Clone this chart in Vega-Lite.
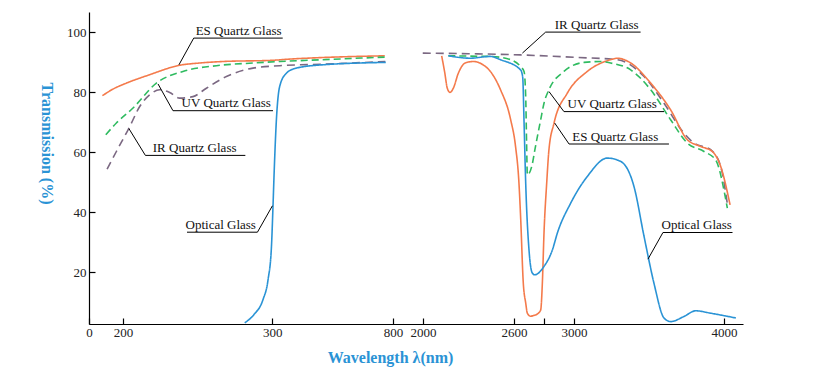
{
  "$schema": "https://vega.github.io/schema/vega-lite/v6.json",
  "width": 654,
  "height": 312,
  "autosize": {"type": "none"},
  "padding": {"left": 89, "top": 12, "right": 96, "bottom": 55},
  "background": "white",
  "config": {
    "view": {"stroke": null},
    "font": "Liberation Serif",
    "axis": {"grid": false, "domainColor": "#000", "tickColor": "#000", "labelColor": "#222", "labelFont": "Liberation Serif", "labelFontSize": 13, "titleFont": "Liberation Serif", "titleFontSize": 16, "titleFontWeight": "bold", "titleColor": "#2a93d5", "domainWidth": 1.2, "tickWidth": 1.2}
  },
  "datasets": {
    "curves": [
      {"glass": "ES", "seg": "L", "wl": 78.8, "t": 78.8},
      {"glass": "ES", "seg": "L", "wl": 141, "t": 81},
      {"glass": "ES", "seg": "L", "wl": 202.3, "t": 83},
      {"glass": "ES", "seg": "L", "wl": 217.9, "t": 85.8},
      {"glass": "ES", "seg": "L", "wl": 237.5, "t": 88.9},
      {"glass": "ES", "seg": "L", "wl": 251.4, "t": 89.7},
      {"glass": "ES", "seg": "L", "wl": 267, "t": 90.2},
      {"glass": "ES", "seg": "L", "wl": 300, "t": 90.6},
      {"glass": "ES", "seg": "L", "wl": 372, "t": 91},
      {"glass": "ES", "seg": "L", "wl": 500, "t": 91.5},
      {"glass": "ES", "seg": "L", "wl": 766, "t": 92.1},

      {"glass": "UV", "seg": "L", "wl": 98.8, "t": 65.8},
      {"glass": "UV", "seg": "L", "wl": 161, "t": 69.7},
      {"glass": "UV", "seg": "L", "wl": 206.7, "t": 74.7},
      {"glass": "UV", "seg": "L", "wl": 222.4, "t": 83},
      {"glass": "UV", "seg": "L", "wl": 240.2, "t": 86.9},
      {"glass": "UV", "seg": "L", "wl": 262.6, "t": 88.8},
      {"glass": "UV", "seg": "L", "wl": 287.1, "t": 89.7},
      {"glass": "UV", "seg": "L", "wl": 331, "t": 90.2},
      {"glass": "UV", "seg": "L", "wl": 510, "t": 90.8},
      {"glass": "UV", "seg": "L", "wl": 772.7, "t": 91.7},

      {"glass": "IR", "seg": "L", "wl": 106, "t": 54.3},
      {"glass": "IR", "seg": "L", "wl": 161, "t": 60.2},
      {"glass": "IR", "seg": "L", "wl": 204.5, "t": 68.5},
      {"glass": "IR", "seg": "L", "wl": 211.2, "t": 75.2},
      {"glass": "IR", "seg": "L", "wl": 217.9, "t": 79.1},
      {"glass": "IR", "seg": "L", "wl": 224.6, "t": 80.8},
      {"glass": "IR", "seg": "L", "wl": 231.3, "t": 79.9},
      {"glass": "IR", "seg": "L", "wl": 238, "t": 78},
      {"glass": "IR", "seg": "L", "wl": 246.9, "t": 78.5},
      {"glass": "IR", "seg": "L", "wl": 255.9, "t": 81.3},
      {"glass": "IR", "seg": "L", "wl": 269.3, "t": 85.2},
      {"glass": "IR", "seg": "L", "wl": 287.1, "t": 88},
      {"glass": "IR", "seg": "L", "wl": 331, "t": 88.8},
      {"glass": "IR", "seg": "L", "wl": 510, "t": 89.3},
      {"glass": "IR", "seg": "L", "wl": 768, "t": 90.2},

      {"glass": "Optical", "seg": "L", "wl": 281.6, "t": 3.1},
      {"glass": "Optical", "seg": "L", "wl": 287.7, "t": 5.8},
      {"glass": "Optical", "seg": "L", "wl": 293.8, "t": 10.8},
      {"glass": "Optical", "seg": "L", "wl": 297.2, "t": 17.4},
      {"glass": "Optical", "seg": "L", "wl": 299.5, "t": 28.5},
      {"glass": "Optical", "seg": "L", "wl": 303.3, "t": 41.9},
      {"glass": "Optical", "seg": "L", "wl": 307.5, "t": 51.9},
      {"glass": "Optical", "seg": "L", "wl": 317.4, "t": 70.8},
      {"glass": "Optical", "seg": "L", "wl": 331, "t": 81.9},
      {"glass": "Optical", "seg": "L", "wl": 358.8, "t": 86.3},
      {"glass": "Optical", "seg": "L", "wl": 400, "t": 88},
      {"glass": "Optical", "seg": "L", "wl": 510, "t": 89.1},
      {"glass": "Optical", "seg": "L", "wl": 770, "t": 89.9},

      {"glass": "IR", "seg": "R", "wl": 1990, "t": 93},
      {"glass": "IR", "seg": "R", "wl": 2300, "t": 92.8},
      {"glass": "IR", "seg": "R", "wl": 2644, "t": 92.4},
      {"glass": "IR", "seg": "R", "wl": 3000, "t": 91.6},
      {"glass": "IR", "seg": "R", "wl": 3289, "t": 90.8},
      {"glass": "IR", "seg": "R", "wl": 3467, "t": 85.2},
      {"glass": "IR", "seg": "R", "wl": 3600, "t": 76.3},
      {"glass": "IR", "seg": "R", "wl": 3733, "t": 66.3},
      {"glass": "IR", "seg": "R", "wl": 3800, "t": 63},
      {"glass": "IR", "seg": "R", "wl": 3911, "t": 60.8},
      {"glass": "IR", "seg": "R", "wl": 3978, "t": 55.2},
      {"glass": "IR", "seg": "R", "wl": 4023, "t": 42.4},

      {"glass": "ES", "seg": "R", "wl": 2123, "t": 92.1},
      {"glass": "ES", "seg": "R", "wl": 2144, "t": 86.3},
      {"glass": "ES", "seg": "R", "wl": 2160, "t": 81.3},
      {"glass": "ES", "seg": "R", "wl": 2178, "t": 79.9},
      {"glass": "ES", "seg": "R", "wl": 2200, "t": 81.3},
      {"glass": "ES", "seg": "R", "wl": 2233, "t": 86.3},
      {"glass": "ES", "seg": "R", "wl": 2278, "t": 89.7},
      {"glass": "ES", "seg": "R", "wl": 2333, "t": 90.2},
      {"glass": "ES", "seg": "R", "wl": 2389, "t": 89.3},
      {"glass": "ES", "seg": "R", "wl": 2444, "t": 86.9},
      {"glass": "ES", "seg": "R", "wl": 2511, "t": 80.8},
      {"glass": "ES", "seg": "R", "wl": 2578, "t": 70.8},
      {"glass": "ES", "seg": "R", "wl": 2610, "t": 62},
      {"glass": "ES", "seg": "R", "wl": 2633, "t": 49.7},
      {"glass": "ES", "seg": "R", "wl": 2644, "t": 38.5},
      {"glass": "ES", "seg": "R", "wl": 2662, "t": 16.3},
      {"glass": "ES", "seg": "R", "wl": 2678, "t": 9.7},
      {"glass": "ES", "seg": "R", "wl": 2689, "t": 6.3},
      {"glass": "ES", "seg": "R", "wl": 2710, "t": 5.3},
      {"glass": "ES", "seg": "R", "wl": 2729, "t": 5.5},
      {"glass": "ES", "seg": "R", "wl": 2760, "t": 6.2},
      {"glass": "ES", "seg": "R", "wl": 2778, "t": 7.4},
      {"glass": "ES", "seg": "R", "wl": 2789, "t": 16.3},
      {"glass": "ES", "seg": "R", "wl": 2800, "t": 33},
      {"glass": "ES", "seg": "R", "wl": 2818, "t": 49.7},
      {"glass": "ES", "seg": "R", "wl": 2833, "t": 60.8},
      {"glass": "ES", "seg": "R", "wl": 2867, "t": 69.7},
      {"glass": "ES", "seg": "R", "wl": 2956, "t": 79.7},
      {"glass": "ES", "seg": "R", "wl": 3089, "t": 86.9},
      {"glass": "ES", "seg": "R", "wl": 3244, "t": 90.8},
      {"glass": "ES", "seg": "R", "wl": 3289, "t": 91.3},
      {"glass": "ES", "seg": "R", "wl": 3378, "t": 89.7},
      {"glass": "ES", "seg": "R", "wl": 3511, "t": 83},
      {"glass": "ES", "seg": "R", "wl": 3644, "t": 74.1},
      {"glass": "ES", "seg": "R", "wl": 3756, "t": 64.1},
      {"glass": "ES", "seg": "R", "wl": 3844, "t": 61.9},
      {"glass": "ES", "seg": "R", "wl": 3922, "t": 60.2},
      {"glass": "ES", "seg": "R", "wl": 3978, "t": 55.2},
      {"glass": "ES", "seg": "R", "wl": 4040, "t": 42.4},

      {"glass": "UV", "seg": "R", "wl": 2167, "t": 92.1},
      {"glass": "UV", "seg": "R", "wl": 2300, "t": 92},
      {"glass": "UV", "seg": "R", "wl": 2444, "t": 91.9},
      {"glass": "UV", "seg": "R", "wl": 2578, "t": 90.8},
      {"glass": "UV", "seg": "R", "wl": 2644, "t": 88.5},
      {"glass": "UV", "seg": "R", "wl": 2667, "t": 86.9},
      {"glass": "UV", "seg": "R", "wl": 2678, "t": 78.5},
      {"glass": "UV", "seg": "R", "wl": 2684, "t": 63},
      {"glass": "UV", "seg": "R", "wl": 2689, "t": 52.4},
      {"glass": "UV", "seg": "R", "wl": 2722, "t": 56},
      {"glass": "UV", "seg": "R", "wl": 2740, "t": 61},
      {"glass": "UV", "seg": "R", "wl": 2778, "t": 70.8},
      {"glass": "UV", "seg": "R", "wl": 2800, "t": 76.3},
      {"glass": "UV", "seg": "R", "wl": 2833, "t": 80.8},
      {"glass": "UV", "seg": "R", "wl": 2933, "t": 86.9},
      {"glass": "UV", "seg": "R", "wl": 3067, "t": 89.9},
      {"glass": "UV", "seg": "R", "wl": 3178, "t": 90.2},
      {"glass": "UV", "seg": "R", "wl": 3244, "t": 89.7},
      {"glass": "UV", "seg": "R", "wl": 3378, "t": 87.4},
      {"glass": "UV", "seg": "R", "wl": 3511, "t": 80.8},
      {"glass": "UV", "seg": "R", "wl": 3644, "t": 70.8},
      {"glass": "UV", "seg": "R", "wl": 3756, "t": 63},
      {"glass": "UV", "seg": "R", "wl": 3867, "t": 60.2},
      {"glass": "UV", "seg": "R", "wl": 3944, "t": 57.4},
      {"glass": "UV", "seg": "R", "wl": 4022, "t": 41.3},

      {"glass": "Optical", "seg": "R", "wl": 2167, "t": 92.1},
      {"glass": "Optical", "seg": "R", "wl": 2311, "t": 91.3},
      {"glass": "Optical", "seg": "R", "wl": 2444, "t": 91.9},
      {"glass": "Optical", "seg": "R", "wl": 2511, "t": 90.8},
      {"glass": "Optical", "seg": "R", "wl": 2644, "t": 87.4},
      {"glass": "Optical", "seg": "R", "wl": 2658, "t": 85},
      {"glass": "Optical", "seg": "R", "wl": 2667, "t": 70},
      {"glass": "Optical", "seg": "R", "wl": 2678, "t": 49.7},
      {"glass": "Optical", "seg": "R", "wl": 2700, "t": 27.4},
      {"glass": "Optical", "seg": "R", "wl": 2722, "t": 19.7},
      {"glass": "Optical", "seg": "R", "wl": 2738, "t": 19.1},
      {"glass": "Optical", "seg": "R", "wl": 2800, "t": 21.9},
      {"glass": "Optical", "seg": "R", "wl": 2856, "t": 27.4},
      {"glass": "Optical", "seg": "R", "wl": 2889, "t": 33},
      {"glass": "Optical", "seg": "R", "wl": 2978, "t": 43},
      {"glass": "Optical", "seg": "R", "wl": 3089, "t": 51.9},
      {"glass": "Optical", "seg": "R", "wl": 3222, "t": 58},
      {"glass": "Optical", "seg": "R", "wl": 3311, "t": 56.9},
      {"glass": "Optical", "seg": "R", "wl": 3400, "t": 48.5},
      {"glass": "Optical", "seg": "R", "wl": 3467, "t": 31.9},
      {"glass": "Optical", "seg": "R", "wl": 3533, "t": 16.3},
      {"glass": "Optical", "seg": "R", "wl": 3600, "t": 4.7},
      {"glass": "Optical", "seg": "R", "wl": 3644, "t": 3.5},
      {"glass": "Optical", "seg": "R", "wl": 3733, "t": 5.2},
      {"glass": "Optical", "seg": "R", "wl": 3811, "t": 7.1},
      {"glass": "Optical", "seg": "R", "wl": 3911, "t": 6.3},
      {"glass": "Optical", "seg": "R", "wl": 4078, "t": 4.7}
    ],
    "leaders": [
      {"ann": "esL", "ord": 1, "wl": 237.5, "t": 89.1},
      {"ann": "esL", "ord": 2, "wl": 247.4, "t": 98},
      {"ann": "esL", "ord": 3, "wl": 343.5, "t": 98},
      {"ann": "uvL", "ord": 1, "wl": 223.5, "t": 82.7},
      {"ann": "uvL", "ord": 2, "wl": 233.5, "t": 73.8},
      {"ann": "uvL", "ord": 3, "wl": 303.3, "t": 73.8},
      {"ann": "irL", "ord": 1, "wl": 204, "t": 67.8},
      {"ann": "irL", "ord": 2, "wl": 215, "t": 58.9},
      {"ann": "irL", "ord": 3, "wl": 282, "t": 58.9},
      {"ann": "optL", "ord": 1, "wl": 300.8, "t": 42.1},
      {"ann": "optL", "ord": 2, "wl": 290.1, "t": 33.3},
      {"ann": "optL", "ord": 3, "wl": 242.9, "t": 33.3},
      {"ann": "irR", "ord": 1, "wl": 2656, "t": 93},
      {"ann": "irR", "ord": 2, "wl": 2811, "t": 100},
      {"ann": "irR", "ord": 3, "wl": 3444, "t": 100},
      {"ann": "uvR", "ord": 1, "wl": 2833, "t": 80.2},
      {"ann": "uvR", "ord": 2, "wl": 2933, "t": 73.5},
      {"ann": "uvR", "ord": 3, "wl": 3600, "t": 73.5},
      {"ann": "esR", "ord": 1, "wl": 2871, "t": 69.7},
      {"ann": "esR", "ord": 2, "wl": 2967, "t": 62.7},
      {"ann": "esR", "ord": 3, "wl": 3633, "t": 62.7},
      {"ann": "optR", "ord": 1, "wl": 3493, "t": 24.3},
      {"ann": "optR", "ord": 2, "wl": 3593, "t": 33.2},
      {"ann": "optR", "ord": 3, "wl": 4056, "t": 33.2}
    ],
    "labels": [
      {"text": "ES Quartz Glass", "wl": 277.5, "t": 99.1},
      {"text": "UV Quartz Glass", "wl": 269.2, "t": 74.9},
      {"text": "IR Quartz Glass", "wl": 248, "t": 60},
      {"text": "Optical Glass", "wl": 265.5, "t": 34.4},
      {"text": "IR Quartz Glass", "wl": 3151, "t": 101.1},
      {"text": "UV Quartz Glass", "wl": 3255, "t": 74.6},
      {"text": "ES Quartz Glass", "wl": 3275, "t": 63.8},
      {"text": "Optical Glass", "wl": 3818, "t": 34.3}
    ]
  },
  "encoding": {
    "x": {
      "field": "wl", "type": "quantitative",
      "scale": {"domain": [0, 200, 300, 800, 2000, 2600, 3000, 4000, 4125], "range": [0, 34, 183.2, 304, 334, 425, 485, 635, 654], "nice": false, "zero": false},
      "axis": {"values": [0, 200, 300, 800, 2000, 2600, 2800, 3000, 4000], "format": "d", "labelExpr": "datum.value == 2800 ? '' : datum.label", "tickSize": -6, "labelPadding": 8, "title": "Wavelength λ(nm)", "titleX": 301, "titleY": 38, "titleAnchor": null, "titleAlign": "center", "titleBaseline": "alphabetic", "labelFlush": false, "labelOverlap": false}
    },
    "y": {
      "field": "t", "type": "quantitative",
      "scale": {"domain": [2.7, 106.7], "nice": false, "zero": false},
      "axis": {"values": [20, 40, 60, 80, 100], "tickSize": -6, "labelPadding": 9, "title": "Transmission (%)", "titleAngle": 90, "titleX": -43, "titleY": 131, "titleAlign": "center", "titleBaseline": "middle", "labelFlush": false}
    }
  },
  "layer": [
    {
      "data": {"name": "curves"},
      "mark": {"type": "line", "interpolate": "monotone", "strokeWidth": 1.6},
      "encoding": {
        "color": {"field": "glass", "type": "nominal", "legend": null, "scale": {"domain": ["Optical", "ES", "UV", "IR"], "range": ["#2a93d5", "#f47a4b", "#2fbb60", "#7b6882"]}},
        "strokeDash": {"field": "glass", "type": "nominal", "legend": null, "scale": {"domain": ["Optical", "ES", "UV", "IR"], "range": [[1, 0], [1, 0], [7, 4], [8, 5]]}},
        "detail": {"field": "seg", "type": "nominal"}
      }
    },
    {
      "data": {"name": "leaders"},
      "mark": {"type": "line", "color": "#000", "strokeWidth": 1},
      "encoding": {
        "detail": {"field": "ann", "type": "nominal"},
        "order": {"field": "ord", "type": "quantitative"}
      }
    },
    {
      "data": {"name": "labels"},
      "mark": {"type": "text", "font": "Liberation Serif", "fontSize": 13, "color": "#111", "align": "center", "baseline": "alphabetic"},
      "encoding": {
        "text": {"field": "text", "type": "nominal"}
      }
    }
  ]
}
